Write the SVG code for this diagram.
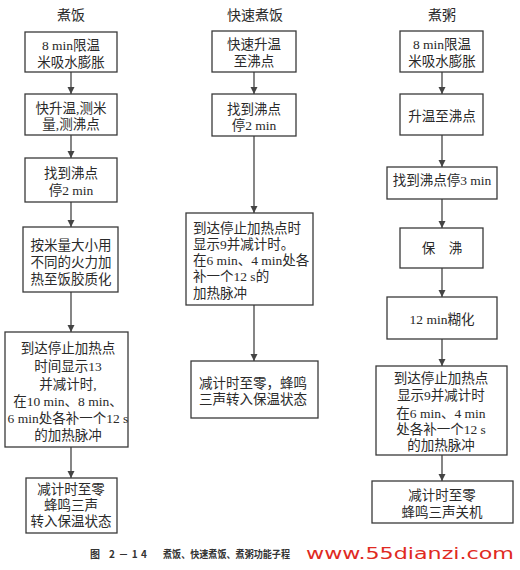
<svg xmlns="http://www.w3.org/2000/svg" width="520" height="570" viewBox="0 0 520 570">
<style>
.bx{fill:#fff;stroke:#3a3a3a;stroke-width:1.3}
.t{font-family:"Liberation Serif","Noto Sans CJK SC",serif;font-size:13.5px;fill:#2a2a2a;text-anchor:middle;dominant-baseline:central}
.l{text-anchor:start}
.h{font-family:"Liberation Serif","Noto Sans CJK SC",serif;font-size:14px;fill:#2a2a2a;text-anchor:middle;dominant-baseline:central}
.c{stroke:#444;stroke-width:1.3;fill:none;marker-end:url(#ah)}
.cap{font-family:"Noto Sans CJK SC",sans-serif;font-size:10px;font-weight:bold;fill:#333}
.wm{font-family:"DejaVu Sans",sans-serif;font-size:16px;fill:#e02a22}
</style>
<defs>
<marker id="ah" markerWidth="8" markerHeight="10" refX="7" refY="5" orient="auto" markerUnits="userSpaceOnUse">
<path d="M0,1.5 L7,5 L0,8.5 Z" fill="#444"/>
</marker>
</defs>
<rect width="520" height="570" fill="#fff"/>
<text class="h" x="71" y="15">煮饭</text>
<text class="h" x="255" y="15">快速煮饭</text>
<text class="h" x="442" y="15">煮粥</text>
<g id="connectors">
<line class="c" x1="71" y1="72" x2="71" y2="94"/>
<line class="c" x1="71" y1="135" x2="71" y2="158"/>
<line class="c" x1="71" y1="202" x2="71" y2="227"/>
<line class="c" x1="71" y1="292" x2="71" y2="332"/>
<line class="c" x1="71" y1="447" x2="71" y2="478"/>
<line class="c" x1="254" y1="72" x2="254" y2="94"/>
<line class="c" x1="254" y1="136" x2="254" y2="213"/>
<line class="c" x1="254" y1="305" x2="254" y2="361"/>
<line class="c" x1="442" y1="72" x2="442" y2="94"/>
<line class="c" x1="442" y1="135" x2="442" y2="167"/>
<line class="c" x1="442" y1="199" x2="442" y2="228"/>
<line class="c" x1="442" y1="268" x2="442" y2="297"/>
<line class="c" x1="442" y1="339" x2="442" y2="366"/>
<line class="c" x1="442" y1="455" x2="442" y2="481"/>
</g>
<g id="a1"><rect class="bx" x="25" y="32" width="92" height="40"/><text class="t" x="71" y="45">8 min限温</text><text class="t" x="71" y="62">米吸水膨胀</text></g>
<g id="a2"><rect class="bx" x="25" y="94" width="92" height="41"/><text class="t" x="71" y="108">快升温,测米</text><text class="t" x="71" y="124">量,测沸点</text></g>
<g id="a3"><rect class="bx" x="25" y="158" width="92" height="44"/><text class="t" x="71" y="173">找到沸点</text><text class="t" x="71" y="190">停2 min</text></g>
<g id="a4"><rect class="bx" x="23" y="227" width="95" height="65"/><text class="t" x="71" y="245">按米量大小用</text><text class="t" x="71" y="262">不同的火力加</text><text class="t" x="71" y="279">热至饭胶质化</text></g>
<g id="a5"><rect class="bx" x="5" y="332" width="123" height="115"/><text class="t" x="68" y="348">到达停止加热点</text><text class="t" x="68" y="366">时间显示13</text><text class="t" x="68" y="384">并减计时,</text><text class="t" x="68" y="401">在10 min、8 min、</text><text class="t" x="68" y="418">6 min处各补一个12 s</text><text class="t" x="68" y="435">的加热脉冲</text></g>
<g id="a6"><rect class="bx" x="26" y="478" width="91" height="55"/><text class="t" x="71" y="489">减计时至零</text><text class="t" x="71" y="505">蜂鸣三声</text><text class="t" x="71" y="521">转入保温状态</text></g>
<g id="b1"><rect class="bx" x="212" y="31" width="84" height="41"/><text class="t" x="254" y="44">快速升温</text><text class="t" x="254" y="61">至沸点</text></g>
<g id="b2"><rect class="bx" x="212" y="94" width="84" height="42"/><text class="t" x="254" y="109">找到沸点</text><text class="t" x="254" y="125">停2 min</text></g>
<g id="b3"><rect class="bx" x="186" y="213" width="127" height="92"/><text class="t l" x="193" y="228">到达停止加热点时</text><text class="t l" x="193" y="244">显示9并减计时。</text><text class="t l" x="193" y="260">在6 min、4 min处各</text><text class="t l" x="193" y="276">补一个12 s的</text><text class="t l" x="193" y="293">加热脉冲</text></g>
<g id="b4"><rect class="bx" x="191" y="361" width="127" height="57"/><text class="t" x="253" y="383">减计时至零，蜂鸣</text><text class="t" x="253" y="399">三声转入保温状态</text></g>
<g id="c1"><rect class="bx" x="400" y="31" width="83" height="41"/><text class="t" x="442" y="44">8 min限温</text><text class="t" x="442" y="61">米吸水膨胀</text></g>
<g id="c2"><rect class="bx" x="400" y="94" width="83" height="41"/><text class="t" x="442" y="116">升温至沸点</text></g>
<g id="c3"><rect class="bx" x="387" y="167" width="110" height="32"/><text class="t" x="442" y="180">找到沸点停3 min</text></g>
<g id="c4"><rect class="bx" x="400" y="228" width="83" height="40"/><text class="t" x="442" y="248">保　沸</text></g>
<g id="c5"><rect class="bx" x="387" y="297" width="110" height="42"/><text class="t" x="442" y="319">12 min糊化</text></g>
<g id="c6"><rect class="bx" x="376" y="366" width="131" height="89"/><text class="t" x="441" y="378">到达停止加热点</text><text class="t" x="441" y="395">显示9并减计时</text><text class="t" x="441" y="413">在6 min、4 min</text><text class="t" x="441" y="429">处各补一个12 s</text><text class="t" x="441" y="445">的加热脉冲</text></g>
<g id="c7"><rect class="bx" x="372" y="481" width="141" height="42"/><text class="t" x="442" y="495">减计时至零</text><text class="t" x="442" y="512">蜂鸣三声关机</text></g>
<text class="cap" x="90" y="558" textLength="57" lengthAdjust="spacing">图 2－14</text>
<text class="cap" x="163" y="558" textLength="127" lengthAdjust="spacingAndGlyphs">煮饭、快速煮饭、煮粥功能子程</text>
<text class="wm" x="306" y="559" textLength="208" lengthAdjust="spacingAndGlyphs">www.55dianzi.com</text>
</svg>
